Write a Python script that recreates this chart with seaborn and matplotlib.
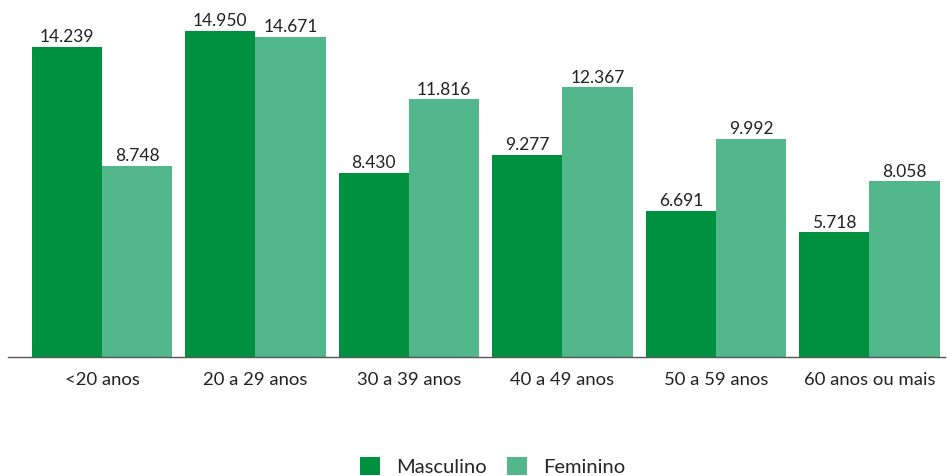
import matplotlib
matplotlib.use("Agg")
import matplotlib.pyplot as plt
import seaborn as sns
import pandas as pd
from matplotlib.patches import Patch

categories = ["<20 anos", "20 a 29 anos", "30 a 39 anos", "40 a 49 anos", "50 a 59 anos", "60 anos ou mais"]
masculino = [14239, 14950, 8430, 9277, 6691, 5718]
feminino = [8748, 14671, 11816, 12367, 9992, 8058]
series = ["Masculino", "Feminino"]
colors = ["#009140", "#52B78A"]

df = pd.DataFrame({
    "faixa": categories * 2,
    "sexo": [series[0]] * len(categories) + [series[1]] * len(categories),
    "valor": masculino + feminino,
})

sns.set_theme(style="white")
plt.rcParams["font.family"] = ["Lato", "DejaVu Sans"]

fig = plt.figure(figsize=(9.47, 4.77), dpi=100)
ax = fig.add_axes([8/947, 1 - 358/477, (945 - 8)/947, 358/477])

sns.barplot(data=df, x="faixa", y="valor", hue="sexo", palette=colors,
            width=0.915, saturation=1, ax=ax, legend=False, linewidth=0)

for cont in ax.containers:
    labels = [f"{v/1000:.3f}" for v in cont.datavalues]
    ax.bar_label(cont, labels=labels, padding=2, fontsize=12.5, color="#222222")

ax.set_xlim(-0.612, 5.492)
ax.set_ylim(0, 16420)
ax.set_yticks([])
ax.set_xlabel("")
ax.set_ylabel("")
for s in ["top", "right", "left"]:
    ax.spines[s].set_visible(False)
ax.spines["bottom"].set_color("#555555")
ax.spines["bottom"].set_linewidth(1)
ax.tick_params(axis="x", length=0, pad=10, labelsize=13.3, labelcolor="#222222")

handles = [Patch(facecolor=c, label=l, linewidth=0) for c, l in zip(colors, series)]
fig.legend(handles=handles, loc="center", bbox_to_anchor=(0.52, 1 - 467/477), ncol=2,
           frameon=False, fontsize=14.5, handlelength=1.0, handleheight=1.0,
           columnspacing=1.0, handletextpad=0.8)

fig.savefig("out.png", dpi=100)
